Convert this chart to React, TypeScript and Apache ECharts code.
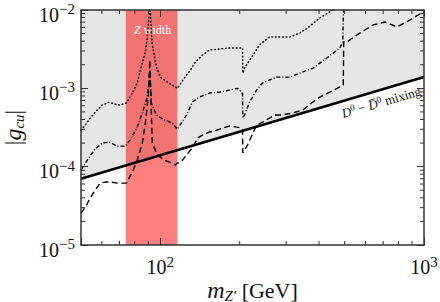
import React, { useEffect, useRef } from 'react';
import * as echarts from 'echarts';

const FONT = "'Liberation Serif', 'DejaVu Serif', serif";
const GRAY = '#e6e6e6';

const xRange = [50, 1000];
const yRange = [1e-5, 1e-2];
const zBand = [74, 116];
const xMinorTicks = [60, 70, 80, 90, 200, 300, 400, 500, 600, 700, 800, 900];
const yMinorTicks = [
  2e-5, 3e-5, 4e-5, 5e-5, 6e-5, 7e-5, 8e-5, 9e-5,
  2e-4, 3e-4, 4e-4, 5e-4, 6e-4, 7e-4, 8e-4, 9e-4,
  2e-3, 3e-3, 4e-3, 5e-3, 6e-3, 7e-3, 8e-3, 9e-3,
];

const d0Mixing = [[50, 7.0e-5], [1000, 1.4e-3]];
const mixingLabelAt = [668, 9.35e-4];

const dotted = [
  [50, 2.93e-4], [51.9, 3.4e-4], [54.2, 4.18e-4], [57.6, 5.28e-4], [60.2, 6.12e-4],
  [64.0, 6.68e-4], [66.8, 6.3e-4], [70.4, 6.12e-4], [74.3, 6.49e-4], [78.3, 8.7e-4],
  [81.7, 1.17e-3], [85.4, 2.1e-3], [87.7, 2.9e-3], [89.2, 4.4e-3], [90.8, 9.4e-3],
  [91.2, 1.5e-2], [92.4, 5.1e-3], [93.2, 3.6e-3], [96.6, 1.87e-3], [100, 1.39e-3],
  [106.3, 1.2e-3], [114, 1.04e-3], [116, 1.0e-3], [123.4, 1.36e-3], [130, 1.71e-3],
  [136, 2.17e-3], [144.4, 2.66e-3], [153.6, 3.09e-3], [183, 3.27e-3], [205, 3.27e-3],
  [205.5, 1.57e-3], [208.6, 1.82e-3], [237.6, 3.57e-3], [259, 4.52e-3], [309, 4.52e-3],
  [338, 5.08e-3], [362, 5.89e-3], [402, 7.9e-3], [451, 1.0e-2], [479, 1.16e-2],
];

const dashDot = [
  [50, 9.0e-5], [52.8, 1.21e-4], [56.1, 1.63e-4], [60.2, 2.0e-4], [64.0, 2.06e-4],
  [68.6, 1.83e-4], [73.6, 1.83e-4], [76.9, 2.19e-4], [81.7, 3.2e-4], [85.4, 4.84e-4],
  [89.2, 7.74e-4], [90.8, 1.28e-3], [91.2, 1.7e-3], [92.4, 6.5e-4], [96.6, 4.56e-4],
  [103.6, 3.94e-4], [111.1, 3.6e-4], [116, 3.0e-4], [125.6, 4.56e-4], [132.3, 6.68e-4],
  [140.6, 7.74e-4], [153.6, 8.7e-4], [167.7, 8.97e-4], [183, 9.5e-4], [196.1, 1.0e-3],
  [203.2, 8.97e-4], [205, 8.5e-4], [205.5, 4.18e-4], [208.6, 4.56e-4], [218, 6.68e-4],
  [231.7, 9.5e-4], [244.2, 1.17e-3], [276, 1.39e-3], [309, 1.39e-3], [346.7, 1.62e-3],
  [378.4, 1.8e-3], [428, 2.44e-3], [479.3, 3.27e-3], [492, 3.9e-3], [496, 1.5e-2],
];

const dashed = [
  [50, 2.55e-5], [51.9, 3.05e-5], [54.2, 3.97e-5], [56.6, 5.02e-5], [59.1, 6.17e-5],
  [61.8, 6.36e-5], [64.5, 6.36e-5], [68.6, 6.17e-5], [74.3, 6.17e-5], [78.3, 8.5e-5],
  [81.7, 1.21e-4], [85.4, 2.0e-4], [87.7, 3.6e-4], [90.0, 8.0e-4], [91.2, 2.3e-3],
  [92.0, 8.0e-4], [93.2, 2.0e-4], [97.4, 1.41e-4], [103.6, 1.21e-4], [111.1, 1.11e-4],
  [114, 1.05e-4], [116, 1.11e-4], [119.8, 1.14e-4], [125.6, 1.41e-4], [132.3, 1.73e-4],
  [138.3, 2.32e-4], [144.4, 2.53e-4], [153.6, 2.77e-4], [160.5, 2.85e-4], [172.1, 3.11e-4],
  [183, 3.3e-4], [194.5, 3.2e-4], [203.2, 3.11e-4], [205, 3.0e-4], [205.5, 1.5e-4],
  [214.2, 1.89e-4], [231.7, 3.4e-4], [244.2, 3.71e-4], [271.3, 4.56e-4], [288.4, 4.56e-4],
  [317.7, 4.84e-4], [346.7, 5.28e-4], [378.4, 6.68e-4], [402.4, 7.74e-4], [439.1, 8.97e-4],
  [479.3, 1.04e-3], [494, 1.1e-3], [496, 3.9e-3], [509.6, 3.9e-3], [571, 5.08e-3],
  [640, 6.43e-3], [711, 7.03e-3], [790, 6.07e-3], [885, 7.45e-3], [949, 8.63e-3],
  [1000, 9.4e-3],
];

const fmtPow = (v: number) => {
  const l = Math.log10(v);
  const e = Math.round(l);
  if (Math.abs(l - e) > 1e-6) return '';
  return `{b|10}{s|${e < 0 ? '\u2212' + -e : e}}`;
};

const labelRich = {
  b: { fontFamily: FONT, fontSize: 20, color: '#111', lineHeight: 26 },
  s: { fontFamily: FONT, fontSize: 15, color: '#111', lineHeight: 14, verticalAlign: 'top' },
};

const AX_COLOR = '#333';

function makeXAxis(position: 'top' | 'bottom', showLabel: boolean) {
  return {
    type: 'log',
    position,
    min: xRange[0],
    max: xRange[1],
    z: 10,
    axisLine: { show: true, lineStyle: { color: AX_COLOR, width: 1.5 } },
    axisTick: { show: true, inside: true, length: 7, lineStyle: { color: AX_COLOR, width: 1 } },
    splitLine: { show: false },
    axisLabel: { show: showLabel, formatter: fmtPow, rich: labelRich, margin: 9 },
  };
}

function makeYAxis(position: 'left' | 'right', showLabel: boolean) {
  return {
    type: 'log',
    position,
    min: yRange[0],
    max: yRange[1],
    z: 10,
    axisLine: { show: true, lineStyle: { color: AX_COLOR, width: 1.5 } },
    axisTick: { show: true, inside: true, length: 7, lineStyle: { color: AX_COLOR, width: 1 } },
    splitLine: { show: false },
    axisLabel: { show: showLabel, formatter: fmtPow, rich: labelRich, margin: 6, padding: [9, 0, 0, 0] },
  };
}

export default function App() {
  const ref = useRef<HTMLDivElement>(null);
  useEffect(() => {
    const chart = echarts.init(ref.current!, null, { renderer: 'svg' });
    const xAxisBottom: any = makeXAxis('bottom', true);
    xAxisBottom.name = '{i|m}{sub|Z\u2032} [GeV]';
    xAxisBottom.nameLocation = 'middle';
    xAxisBottom.nameGap = 32;
    xAxisBottom.nameMoveOverlap = false;
    xAxisBottom.nameTextStyle = {
      fontFamily: FONT, fontSize: 22, color: '#111', lineHeight: 26,
      rich: {
        i: { fontFamily: FONT, fontSize: 24, fontStyle: 'italic', color: '#111', lineHeight: 26 },
        sub: { fontFamily: FONT, fontSize: 15, fontStyle: 'italic', color: '#111', lineHeight: 14, verticalAlign: 'bottom' },
      },
    };
    const yAxisLeft: any = makeYAxis('left', true);
    yAxisLeft.name = '|{i|g}{sub|cu}|';
    yAxisLeft.nameLocation = 'middle';
    yAxisLeft.nameRotate = 90;
    yAxisLeft.nameGap = 55;
    yAxisLeft.nameMoveOverlap = false;
    yAxisLeft.nameTextStyle = {
      fontFamily: FONT, fontSize: 23, color: '#111', lineHeight: 26,
      rich: {
        i: { fontFamily: FONT, fontSize: 24, fontStyle: 'italic', color: '#111', lineHeight: 26 },
        sub: { fontFamily: FONT, fontSize: 15, fontStyle: 'italic', color: '#111', lineHeight: 14, verticalAlign: 'bottom' },
      },
    };

    const option: any = {
      animation: false,
      backgroundColor: '#fff',
      grid: { left: 81, right: 16, top: 10, bottom: 57, containLabel: false, outerBoundsMode: 'none' },
      xAxis: [xAxisBottom, makeXAxis('top', false)],
      yAxis: [yAxisLeft, makeYAxis('right', false)],
      series: [
        {
          type: 'line',
          data: d0Mixing,
          symbol: 'none',
          silent: true,
          lineStyle: { width: 0, opacity: 0 },
          areaStyle: { color: GRAY, opacity: 1, origin: 'end' },
          z: 1,
        },
        {
          type: 'custom',
          data: [[zBand[0], yRange[0], zBand[1], yRange[1]]],
          encode: { x: [0, 2], y: [1, 3] },
          z: 2,
          silent: true,
          renderItem: (params: any, api: any) => {
            const p0 = api.coord([api.value(0), api.value(3)]);
            const p1 = api.coord([api.value(2), api.value(1)]);
            return {
              type: 'group',
              children: [
                {
                  type: 'rect',
                  shape: { x: p0[0], y: p0[1], width: p1[0] - p0[0], height: p1[1] - p0[1] },
                  style: { fill: 'rgba(255,0,0,0.5)' },
                },
                {
                  type: 'text',
                  x: (p0[0] + p1[0]) / 2 + 1,
                  y: p0[1] + 20,
                  style: {
                    text: '{i|Z} width',
                    fill: '#fff',
                    fontSize: 12,
                    fontFamily: FONT,
                    align: 'center',
                    verticalAlign: 'middle',
                    rich: {
                      i: { fontSize: 12, fontFamily: FONT, fontStyle: 'italic', fill: '#fff' },
                    },
                  },
                },
              ],
            };
          },
        },
        {
          type: 'line', data: dotted, symbol: 'none', z: 3, silent: true,
          lineStyle: { color: '#000', width: 1.5, type: [0.6, 3], cap: 'round' },
        },
        {
          type: 'line', data: dashDot, symbol: 'none', z: 3, silent: true,
          lineStyle: { color: '#000', width: 1.4, type: [4, 2, 1, 2] },
        },
        {
          type: 'line', data: dashed, symbol: 'none', z: 3, silent: true,
          lineStyle: { color: '#000', width: 1.4, type: [6, 3.5] },
        },
        {
          type: 'line', data: d0Mixing, symbol: 'none', z: 4, silent: true,
          lineStyle: { color: '#000', width: 2.6 },
          markPoint: {
            silent: true,
            symbol: 'circle',
            symbolSize: 0,
            data: [
              {
                coord: mixingLabelAt,
                label: {
                  show: true,
                  position: 'inside',
                  offset: [0, 12],
                  rotate: 16.3,
                  formatter: '{d|D}{s|0}{t| \u2212 }{d|D\u0305}{s|0}{t| mixing}',
                  rich: {
                    d: { fontFamily: FONT, fontSize: 13, fontStyle: 'italic', color: '#111', lineHeight: 15 },
                    t: { fontFamily: FONT, fontSize: 13, color: '#111', lineHeight: 15 },
                    s: { fontFamily: FONT, fontSize: 9, color: '#111', lineHeight: 9, verticalAlign: 'top' },
                  },
                },
              },
            ],
          },
        },
        {
          type: 'custom',
          data: xMinorTicks.map((v) => [v, yRange[0]]),
          z: 5,
          silent: true,
          clip: false,
          renderItem: (params: any, api: any) => {
            const p = api.coord([api.value(0), api.value(1)]);
            const cs = params.coordSys;
            const st = { stroke: AX_COLOR, lineWidth: 1 };
            return {
              type: 'group',
              children: [
                { type: 'line', shape: { x1: p[0], y1: cs.y + cs.height, x2: p[0], y2: cs.y + cs.height - 4 }, style: st },
                { type: 'line', shape: { x1: p[0], y1: cs.y, x2: p[0], y2: cs.y + 4 }, style: st },
              ],
            };
          },
        },
        {
          type: 'custom',
          data: yMinorTicks.map((v) => [xRange[0], v]),
          z: 5,
          silent: true,
          clip: false,
          renderItem: (params: any, api: any) => {
            const p = api.coord([api.value(0), api.value(1)]);
            const cs = params.coordSys;
            const st = { stroke: AX_COLOR, lineWidth: 1 };
            return {
              type: 'group',
              children: [
                { type: 'line', shape: { x1: cs.x, y1: p[1], x2: cs.x + 4, y2: p[1] }, style: st },
                { type: 'line', shape: { x1: cs.x + cs.width, y1: p[1], x2: cs.x + cs.width - 4, y2: p[1] }, style: st },
              ],
            };
          },
        },
      ],
    };
    chart.setOption(option);
    return () => chart.dispose();
  }, []);
  return (
    <div
      ref={ref}
      style={{ position: 'fixed', left: 0, top: 0, width: 440, height: 302, background: '#fff' }}
    />
  );
}
